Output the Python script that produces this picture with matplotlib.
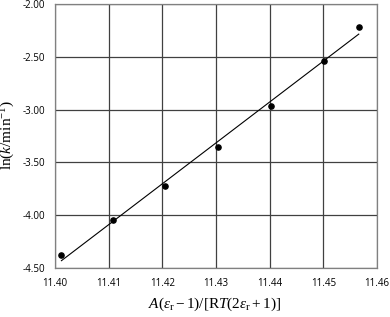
import numpy as np
import matplotlib
matplotlib.use("Agg")
import matplotlib.pyplot as plt

x_vals = [11.4012, 11.4109, 11.4205, 11.4304, 11.4402, 11.4501, 11.4566]
y_vals = [-4.377, -4.045, -3.720, -3.351, -2.966, -2.537, -2.215]
x_ticks = [11.40, 11.41, 11.42, 11.43, 11.44, 11.45, 11.46]
y_ticks = [-4.50, -4.00, -3.50, -3.00, -2.50, -2.00]

plt.rcParams['mathtext.fontset'] = 'custom'
plt.rcParams['mathtext.rm'] = 'Liberation Serif'
plt.rcParams['mathtext.it'] = 'Liberation Serif:italic'
plt.rcParams['mathtext.bf'] = 'Liberation Serif:bold'

W, H = 390, 317
fig = plt.figure(figsize=(W/100, H/100), dpi=100)
ax = fig.add_axes([55/W, 1 - 268/H, (377-55)/W, (268-4)/H])

x = np.array(x_vals)
y = np.array(y_vals)
m, b = np.polyfit(x, y, 1)
xl = np.array([x.min(), x.max()])
ax.plot(xl, m*xl + b, color='black', lw=0.8, zorder=3)
ax.scatter(x, y, s=14, color='black', zorder=4)

ax.set_xlim(11.40, 11.46)
ax.set_ylim(-4.50, -2.00)
ax.set_xticks(x_ticks)
ax.set_yticks(y_ticks)
ax.set_xticklabels([f"{v:.2f}" for v in x_ticks])
ax.set_yticklabels([f"{v:.2f}" for v in y_ticks])
ax.tick_params(length=0, labelsize=7, pad=7)
for lab in ax.get_xticklabels() + ax.get_yticklabels():
    lab.set_fontfamily('Open Sans')
ax.grid(True, color='#404040', lw=0.9)
ax.set_axisbelow(True)
for s in ax.spines.values():
    s.set_color('#808080')
    s.set_linewidth(0.9)

fig.text(8/W, 1 - 135/H, r'$\ln(k/\mathrm{min}^{-1})$', fontsize=11,
         rotation=90, ha='center', va='center')
fig.text(215/W, 1 - 304/H, r'$A(\varepsilon_\mathrm{r}-1)/[\mathrm{R}T(2\varepsilon_\mathrm{r}+1)]$',
         fontsize=11, ha='center', va='center')

fig.savefig('out.png', dpi=100)
